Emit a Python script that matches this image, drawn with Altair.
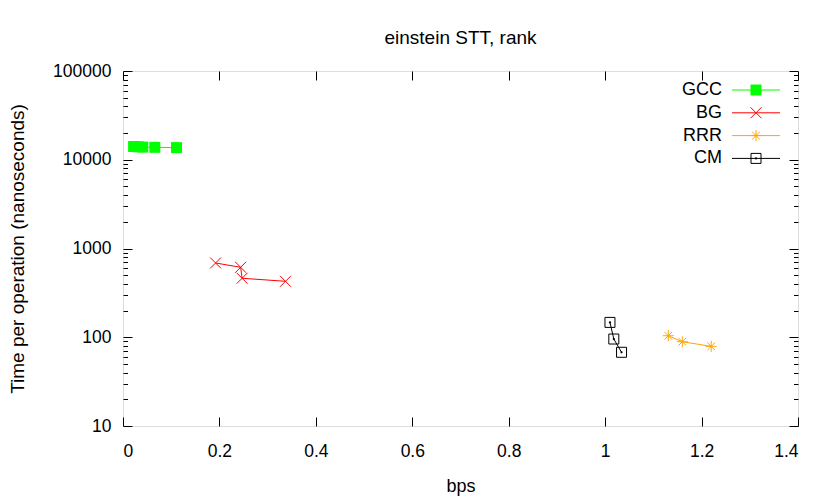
import altair as alt
import pandas as pd

# ---- data ----
series_names = ["GCC", "BG", "RRR", "CM"]
series_colors = ["#00ff00", "#ff0000", "#ffa500", "#000000"]

gcc_bps = [0.022, 0.031, 0.041, 0.066, 0.111]
gcc_time = [14100, 14000, 13900, 13800, 13700]

bg_bps = [0.192, 0.244, 0.247, 0.337]
bg_time = [687, 614, 462, 427]

rrr_bps = [1.131, 1.160, 1.220]
rrr_time = [104, 89, 79]

cm_bps = [1.010, 1.018, 1.034]
cm_time = [147, 95.5, 67.7]

x_ticks = [0, 0.2, 0.4, 0.6, 0.8, 1.0, 1.2, 1.4]
y_major = [10, 100, 1000, 10000, 100000]
y_minor = [m * 10 ** e for e in range(1, 5) for m in range(2, 10)]

rows = []
for name, xs_, ys_ in [("GCC", gcc_bps, gcc_time), ("BG", bg_bps, bg_time),
                       ("RRR", rrr_bps, rrr_time), ("CM", cm_bps, cm_time)]:
    for i, (a, b) in enumerate(zip(xs_, ys_)):
        rows.append({"series": name, "bps": a, "time": b, "ord": i})
df = pd.DataFrame(rows)

leg_df = pd.DataFrame({"series": series_names, "idx": list(range(len(series_names)))})

FONT = "Liberation Sans"
W, H = 675, 355

X_PATH = "M-1,-1L1,1M-1,1L1,-1"
STAR_PATH = "M-1,0L1,0M0,-1L0,1M-0.7,-0.7L0.7,0.7M-0.7,0.7L0.7,-0.7"

xscale = alt.Scale(domain=[0, 1.4], nice=False, zero=False)
yscale = alt.Scale(type="log", domain=[10, 100000], nice=False)
cscale = alt.Scale(domain=series_names, range=series_colors)
sscale = alt.Scale(domain=series_names, range=["square", X_PATH, STAR_PATH, "square"])


def tick_axis(orient, offset, values, size):
    return alt.Axis(orient=orient, offset=offset, values=values, tickSize=size,
                    labels=False, domain=False, grid=False, title=None,
                    tickColor="black", tickWidth=1)


base = alt.Chart(df)

lines = base.mark_line(strokeWidth=1).encode(
    x=alt.X("bps:Q", scale=xscale,
            axis=alt.Axis(orient="bottom", values=x_ticks, format="~g", ticks=False,
                          domain=False, grid=False, title="bps", labelPadding=16,
                          titlePadding=18, labelFontSize=17.5, titleFontSize=18,
                          labelFont=FONT, titleFont=FONT, titleFontWeight="normal",
                          labelColor="black", titleColor="black")),
    y=alt.Y("time:Q", scale=yscale,
            axis=alt.Axis(orient="left", values=y_major, format="d", ticks=False,
                          domain=False, grid=False, title="Time per operation (nanoseconds)",
                          labelPadding=12, titlePadding=25, labelFontSize=17.5, titleFontSize=19,
                          labelFont=FONT, titleFont=FONT, titleFontWeight="normal",
                          labelColor="black", titleColor="black")),
    color=alt.Color("series:N", scale=cscale, legend=None),
    order="ord:Q",
)

gcc_pts = base.transform_filter(alt.datum.series == "GCC").mark_point(
    shape="square", filled=True, size=121, opacity=1
).encode(
    x=alt.X("bps:Q", scale=xscale, axis=tick_axis("top", -H, x_ticks, 9)),
    y=alt.Y("time:Q", scale=yscale, axis=tick_axis("right", -W, y_major, 9)),
    color=alt.Color("series:N", scale=cscale, legend=None),
)

cross_pts = base.transform_filter(
    (alt.datum.series == "BG") | (alt.datum.series == "RRR")
).mark_point(filled=False, size=120, strokeWidth=1, opacity=1).encode(
    x=alt.X("bps:Q", scale=xscale, axis=tick_axis("bottom", -H, x_ticks, 9)),
    y=alt.Y("time:Q", scale=yscale, axis=tick_axis("left", -W, y_major, 9)),
    color=alt.Color("series:N", scale=cscale, legend=None),
    shape=alt.Shape("series:N", scale=sscale, legend=None),
)

cm_pts = base.transform_filter(alt.datum.series == "CM").mark_point(
    shape="square", filled=False, size=100, strokeWidth=1, opacity=1, color="black"
).encode(
    x=alt.X("bps:Q", scale=xscale, axis=None),
    y=alt.Y("time:Q", scale=yscale, axis=tick_axis("right", -W, y_minor, 4.5)),
)

cm_dots = base.transform_filter(alt.datum.series == "CM").mark_point(
    shape="circle", filled=True, size=5, opacity=1, color="black"
).encode(
    x=alt.X("bps:Q", scale=xscale, axis=None),
    y=alt.Y("time:Q", scale=yscale, axis=tick_axis("left", -W, y_minor, 4.5)),
)

# ---- key (gnuplot style: label, then line sample with marker) ----
leg = alt.Chart(leg_df).transform_calculate(ly="19 + datum.idx * 22.8")
ly = alt.Y("ly:Q", scale=None, axis=None)

leg_text = leg.mark_text(align="right", baseline="middle", fontSize=18, font=FONT,
                         color="black").encode(x=alt.value(599), y=ly, text="series:N")
leg_rule = leg.mark_rule(strokeWidth=1).encode(
    x=alt.value(609), x2=alt.value(657), y=ly,
    color=alt.Color("series:N", scale=cscale, legend=None))
leg_sq = leg.transform_filter(alt.datum.series == "GCC").mark_point(
    shape="square", filled=True, size=121, opacity=1).encode(
    x=alt.value(633), y=ly, color=alt.Color("series:N", scale=cscale, legend=None))
leg_cross = leg.transform_filter(
    (alt.datum.series == "BG") | (alt.datum.series == "RRR")).mark_point(
    filled=False, size=120, strokeWidth=1, opacity=1).encode(
    x=alt.value(633), y=ly, color=alt.Color("series:N", scale=cscale, legend=None),
    shape=alt.Shape("series:N", scale=sscale, legend=None))
leg_cm = leg.transform_filter(alt.datum.series == "CM").mark_point(
    shape="square", filled=False, size=100, strokeWidth=1, opacity=1, color="black").encode(
    x=alt.value(633), y=ly)
leg_cm_dot = leg.transform_filter(alt.datum.series == "CM").mark_point(
    shape="circle", filled=True, size=5, opacity=1, color="black").encode(
    x=alt.value(633), y=ly)

chart = alt.layer(
    lines, gcc_pts, cross_pts, cm_pts, cm_dots,
    leg_rule, leg_text, leg_sq, leg_cross, leg_cm, leg_cm_dot,
).resolve_axis(x="independent", y="independent").properties(
    width=W, height=H,
    title=alt.TitleParams("einstein STT, rank", fontSize=19, font=FONT,
                          fontWeight="normal", anchor="middle", frame="group",
                          offset=14, color="black"),
    autosize=alt.AutoSizeParams(type="none"),
    padding={"left": 115, "top": 63, "right": 24, "bottom": 70},
).configure_view(stroke="black", strokeWidth=1).configure(background="white")

chart.save("out.html", embed_options={"renderer": "svg", "actions": False})
